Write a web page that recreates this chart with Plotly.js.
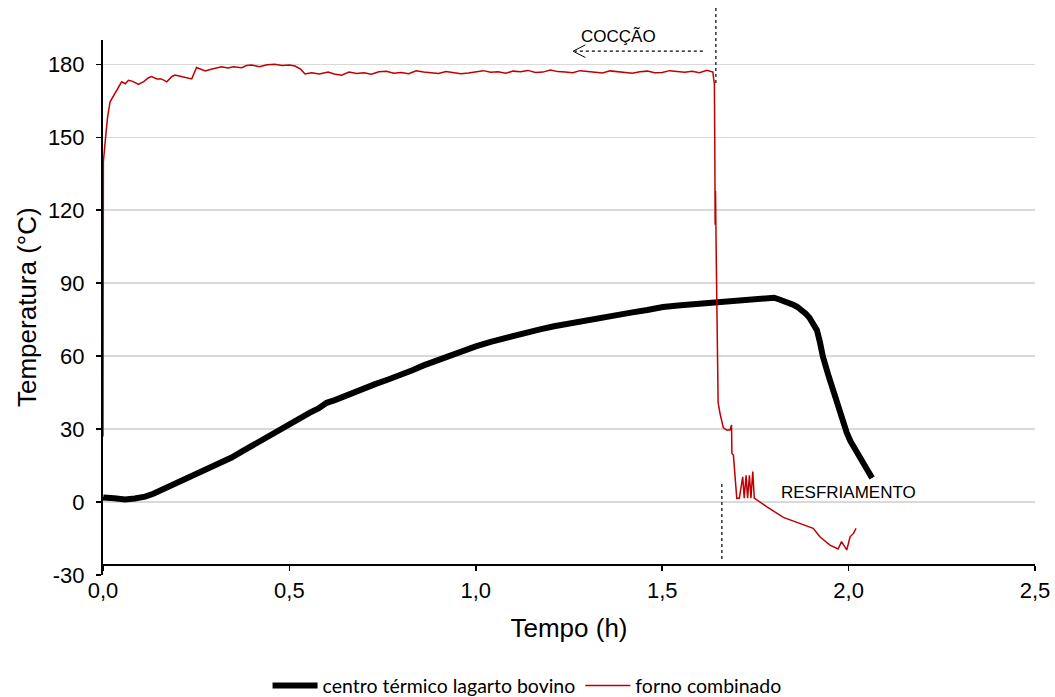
<!DOCTYPE html>
<html>
<head>
<meta charset="utf-8">
<script src="https://cdn.plot.ly/plotly-3.0.1.min.js"></script>
<style>html,body{margin:0;padding:0;background:#fff;}#chart{width:1055px;height:697px;}</style>
</head>
<body>
<div id="chart"></div>
<script>
// Centro térmico (lagarto bovino)
const tempoCentro = [0, 0.001, 0.03, 0.059, 0.085, 0.113, 0.135, 0.157, 0.185, 0.211, 0.24, 0.265, 0.29, 0.318, 0.345, 0.372, 0.4, 0.426, 0.45, 0.479, 0.505, 0.533, 0.555, 0.578, 0.59, 0.6, 0.622, 0.663, 0.7, 0.73, 0.765, 0.797, 0.83, 0.86, 0.89, 0.923, 0.96, 1.0, 1.04, 1.08, 1.125, 1.172, 1.21, 1.25, 1.29, 1.333, 1.375, 1.42, 1.46, 1.502, 1.55, 1.6, 1.644, 1.7, 1.75, 1.781, 1.8, 1.816, 1.83, 1.843, 1.853, 1.862, 1.875, 1.885, 1.895, 1.905, 1.915, 1.923, 1.931, 1.945, 1.958, 1.972, 1.985, 1.995, 2.005, 2.023, 2.035, 2.045, 2.055, 2.063];
const tempCentro  = [2.0, 1.9, 1.6, 1.1, 1.5, 2.2, 3.4, 4.9, 6.8, 8.6, 10.6, 12.5, 14.0, 15.9, 18.3, 20.7, 23.2, 25.5, 27.6, 30.3, 32.7, 35.1, 36.8, 38.5, 40.0, 40.8, 41.9, 44.6, 46.8, 48.5, 50.4, 52.0, 54.2, 56.2, 58.0, 60.0, 62.0, 64.0, 65.9, 67.6, 69.4, 71.0, 72.3, 73.5, 74.6, 75.6, 76.8, 78.0, 79.0, 80.2, 80.9, 81.5, 82.0, 83.0, 83.8, 84.2, 84.0, 83.2, 82.6, 81.8, 81.0, 80.3, 78.9, 77.5, 75.8, 73.6, 70.7, 65.8, 59.8, 52.5, 46.0, 39.0, 32.5, 28.5, 25.0, 20.0, 17.0, 14.5, 12.0, 9.9];

// Forno combinado
const tempoForno = [0, 0.001, 0.007, 0.012, 0.019, 0.028, 0.037, 0.05, 0.06, 0.068, 0.08, 0.095, 0.11, 0.121, 0.13, 0.145, 0.157, 0.171, 0.185, 0.193, 0.21, 0.225, 0.238, 0.251, 0.262, 0.274, 0.29, 0.305, 0.318, 0.335, 0.35, 0.372, 0.385, 0.399, 0.42, 0.44, 0.461, 0.48, 0.5, 0.515, 0.53, 0.542, 0.56, 0.58, 0.604, 0.62,
  0.64, 0.66, 0.68, 0.70, 0.72, 0.74, 0.76, 0.78, 0.80, 0.82, 0.84, 0.86, 0.88, 0.90, 0.92, 0.94, 0.96, 0.98, 1.00, 1.02, 1.04, 1.06, 1.08, 1.10, 1.12, 1.14, 1.16, 1.18, 1.20, 1.22, 1.24, 1.26, 1.28, 1.30, 1.32, 1.34, 1.36, 1.38, 1.40, 1.42, 1.44, 1.46, 1.48, 1.50, 1.52, 1.54, 1.56, 1.58, 1.60, 1.62, 1.636,
  1.638, 1.640, 1.641, 1.642, 1.643, 1.645, 1.648, 1.650, 1.655, 1.660, 1.664, 1.673, 1.682, 1.686, 1.687, 1.691, 1.700, 1.707, 1.716, 1.720, 1.725, 1.729, 1.734, 1.738, 1.743, 1.747, 1.780, 1.825, 1.870, 1.905, 1.923, 1.950, 1.972, 1.981, 1.995, 2.004, 2.013, 2.020];
const tempForno  = [27, 140, 150, 158, 164.6, 167, 169, 172.8, 172, 173.4, 173, 171.7, 173, 174.4, 175, 174, 174, 172.8, 175, 175.6, 175, 174.5, 174, 178.7, 178, 177.3, 178, 178.5, 179, 178.5, 179, 178.6, 179.5, 179.7, 179, 179.8, 180, 179.5, 179.7, 179.3, 178, 176, 176.5, 176, 176.8, 176,
  175.5, 176.8, 176.2, 176.5, 175.9, 176.9, 177.1, 176.3, 176.6, 176.1, 177.3, 176.8, 176.5, 176.2, 177.0, 176.6, 176.1, 176.4, 176.9, 177.4, 176.7, 176.9, 176.3, 177.2, 176.9, 177.5, 176.6, 176.8, 177.7, 177.0, 176.8, 176.5, 177.4, 177.1, 176.6, 176.4, 177.3, 177.0, 176.6, 176.3, 176.9, 177.2, 176.5, 176.6, 177.4, 176.9, 176.7, 177.1, 176.5, 177.5, 176.8,
  174, 172, 150, 114, 128, 100, 60, 41, 36.5, 33, 30.5, 29.6, 29.6, 31.7, 20, 19.3, 1.6, 1.6, 10.4, 1.6, 11, 1.6, 11, 1.6, 12.5, 1.6, -1.9, -6.3, -8.8, -10.8, -14.3, -17.7, -19.3, -16.3, -19.7, -14.3, -12.9, -10.8];

const xTickVals = [0, 0.5, 1.0, 1.5, 2.0, 2.5];
const xTickText = ["0,0", "0,5", "1,0", "1,5", "2,0", "2,5"];
const yTickVals = [-30, 0, 30, 60, 90, 120, 150, 180];
const yTickText = ["-30", "0", "30", "60", "90", "120", "150", "180"];

const FONT = 'Liberation Sans, Arial, sans-serif';

const traces = [
  {x: tempoCentro, y: tempCentro, mode: 'lines', name: 'centro térmico lagarto bovino',
   line: {color: '#000000', width: 6}, xaxis: 'x', yaxis: 'y'},
  {x: tempoForno, y: tempForno, mode: 'lines', name: 'forno combinado',
   line: {color: '#c00000', width: 1.5}, xaxis: 'x', yaxis: 'y'},
  {x: [0, 2.5], y: [-40, -40], mode: 'lines', showlegend: false, hoverinfo: 'skip',
   line: {color: 'rgba(0,0,0,0)'}, xaxis: 'x2', yaxis: 'y'}
];

const layout = {
  width: 1055, height: 697,
  margin: {l: 103, r: 20, t: 40, b: 122, autoexpand: false},
  paper_bgcolor: '#ffffff', plot_bgcolor: '#ffffff',
  font: {family: FONT, color: '#000000', size: 22},
  showlegend: true,
  legend: {orientation: 'h', x: 0.455, xanchor: 'center', y: -0.207, yanchor: 'middle',
           font: {family: 'Lato, sans-serif', size: 19.5}, itemwidth: 45},
  xaxis: {range: [0, 2.5], tickvals: xTickVals, ticktext: xTickText, showgrid: false,
          zeroline: false, showline: false, ticks: '',
          tickfont: {size: 22, family: FONT},
          title: {text: 'Tempo (h)', font: {size: 26, family: FONT}, standoff: 16}},
  xaxis2: {range: [0, 2.5], overlaying: 'x', anchor: 'free', position: 0.019, side: 'bottom',
           tickvals: xTickVals, showticklabels: false, showgrid: false, zeroline: false,
           showline: true, linecolor: '#000000', linewidth: 2,
           ticks: 'outside', ticklen: 5, tickwidth: 1.5, tickcolor: '#000000'},
  yaxis: {range: [-30, 190], tickvals: yTickVals, ticktext: yTickText,
          showgrid: true, gridcolor: '#d9d9d9', gridwidth: 1.5,
          zeroline: false, showline: true, linecolor: '#000000', linewidth: 2,
          ticks: 'outside', ticklen: 5, tickwidth: 1.5, tickcolor: '#000000',
          ticklabelstandoff: 7,
          tickfont: {size: 22, family: FONT}},
  shapes: [
    {type: 'line', xref: 'x', yref: 'y', x0: 1.609, x1: 1.266, y0: 185.4, y1: 185.4,
     line: {color: '#000000', width: 1.2, dash: 'dot'}},
    {type: 'line', xref: 'x', yref: 'y', x0: 1.261, x1: 1.294, y0: 185.4, y1: 188.0,
     line: {color: '#000000', width: 1}},
    {type: 'line', xref: 'x', yref: 'y', x0: 1.261, x1: 1.294, y0: 185.4, y1: 182.8,
     line: {color: '#000000', width: 1}},
    {type: 'line', xref: 'x', yref: 'paper', x0: 1.644, x1: 1.644, y0: 1.06, y1: 0.916,
     line: {color: '#000000', width: 1.2, dash: 'dot'}},
    {type: 'line', xref: 'x', yref: 'paper', x0: 1.660, x1: 1.660, y0: 0.170, y1: 0.028,
     line: {color: '#000000', width: 1.2, dash: 'dot'}}
  ],
  annotations: [
    {text: 'Temperatura (°C)', xref: 'paper', yref: 'paper', x: -0.0815, y: 0.501, showarrow: false,
     textangle: -90, font: {size: 26, family: FONT}, xanchor: 'center', yanchor: 'middle'},
    {text: 'COCÇÃO', xref: 'x', yref: 'paper', x: 1.382, y: 1.006, showarrow: false,
     font: {size: 17, family: FONT}, xanchor: 'center', yanchor: 'middle'},
    {text: 'RESFRIAMENTO', xref: 'x', yref: 'y', x: 2.001, y: 4.1, showarrow: false,
     font: {size: 17, family: FONT}, xanchor: 'center', yanchor: 'middle'}
  ]
};

Plotly.newPlot('chart', traces, layout, {displayModeBar: false, staticPlot: true});
</script>
</body>
</html>
